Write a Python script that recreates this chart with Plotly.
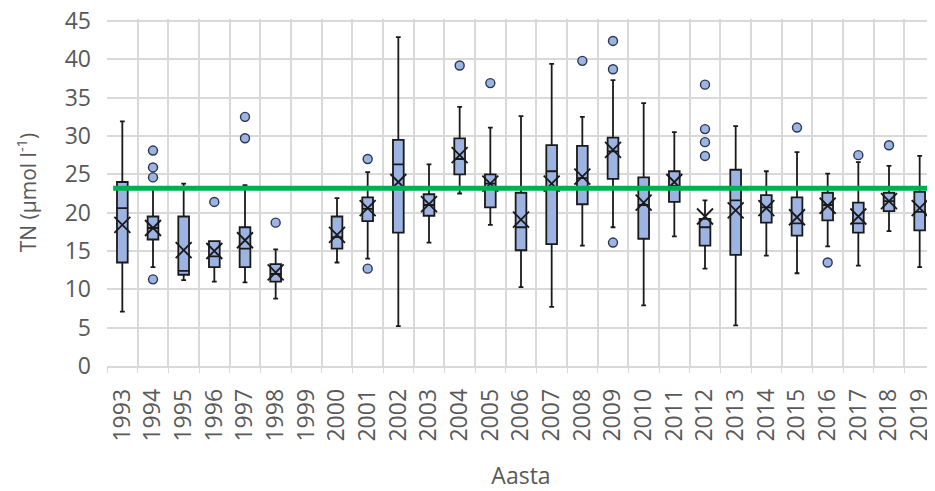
import plotly.graph_objects as go

years = [str(y) for y in range(1993, 2020)]

# Box statistics per year (None = no data, 1999)
q1 =     [13.5, 16.5, 11.9, 12.9, 12.9, 11.0, None, 15.3, 18.9, 17.4, 19.6, 25.0, 20.7, 15.1,
          15.9, 21.1, 24.4, 16.6, 21.4, 15.7, 14.5, 18.7, 17.0, 19.0, 17.4, 20.2, 17.7]
median = [20.6, 18.0, 12.4, 14.3, 15.3, 12.0, None, 16.8, 20.5, 26.3, 21.0, 27.0, 23.8, 18.1,
          25.4, 24.5, 28.0, 21.0, 23.5, 18.1, 21.6, 20.7, 18.6, 21.0, 18.6, 21.5, 20.1]
q3 =     [24.0, 19.5, 19.5, 16.3, 18.1, 13.3, None, 19.5, 22.0, 29.5, 22.4, 29.7, 25.0, 22.6,
          28.8, 28.7, 29.8, 24.6, 25.4, 19.2, 25.6, 22.3, 22.0, 22.6, 21.3, 22.6, 22.7]
lower =  [7.1, 12.9, 11.2, 11.0, 10.9, 8.8, None, 13.5, 14.0, 5.2, 16.1, 22.5, 18.4, 10.3,
          7.7, 15.7, 18.1, 7.9, 16.9, 12.7, 5.3, 14.4, 12.1, 15.6, 13.1, 17.6, 12.9]
upper =  [31.9, 23.3, 23.8, 16.3, 23.6, 15.2, None, 21.9, 25.3, 42.9, 26.3, 33.8, 31.1, 32.6,
          39.4, 32.5, 37.3, 34.3, 30.5, 21.6, 31.3, 25.4, 27.9, 25.1, 26.6, 26.1, 27.4]
mean =   [18.4, 18.0, 15.1, 15.0, 16.4, 12.2, None, 17.1, 20.6, 24.0, 21.1, 27.5, 23.8, 19.1,
          23.8, 24.7, 28.2, 21.3, 24.0, 19.5, 20.3, 20.6, 19.4, 20.9, 19.5, 21.5, 20.6]

outlier_years = ["1994", "1994", "1994", "1994", "1996", "1997", "1997", "1998",
                 "2001", "2001", "2004", "2005", "2008", "2009", "2009", "2009",
                 "2012", "2012", "2012", "2012", "2015", "2016", "2017", "2018"]
outlier_values = [28.1, 25.9, 24.6, 11.3, 21.4, 32.5, 29.7, 18.7,
                  27.0, 12.7, 39.2, 36.9, 39.8, 42.4, 38.7, 16.1,
                  36.7, 30.9, 29.2, 27.4, 31.1, 13.5, 27.5, 28.8]

reference_level = 23.2

y_ticks = [0, 5, 10, 15, 20, 25, 30, 35, 40, 45]

idx = [i for i, v in enumerate(q1) if v is not None]

TEXT = "#595959"
GRID = "#d9d9d9"
FILL = "#9DB4E3"
EDGE = "#1a1a1a"

fig = go.Figure()

fig.add_trace(go.Box(
    x=[years[i] for i in idx],
    q1=[q1[i] for i in idx],
    median=[median[i] for i in idx],
    q3=[q3[i] for i in idx],
    lowerfence=[lower[i] for i in idx],
    upperfence=[upper[i] for i in idx],
    fillcolor=FILL,
    line=dict(color=EDGE, width=1.8),
    whiskerwidth=0.45,
    boxpoints=False,
    showlegend=False,
    hoverinfo="skip",
))

fig.add_trace(go.Scatter(
    x=years,
    y=mean,
    mode="markers",
    marker=dict(symbol="x-thin-open", size=16, color=EDGE, line=dict(color=EDGE, width=1.8)),
    showlegend=False,
    hoverinfo="skip",
))

fig.add_trace(go.Scatter(
    x=outlier_years,
    y=outlier_values,
    mode="markers",
    marker=dict(symbol="circle", size=9, color=FILL, line=dict(color="#2a3550", width=1.4)),
    showlegend=False,
    hoverinfo="skip",
))

fig.add_shape(type="line", xref="x", yref="y",
              x0=-0.3, x1=26.5, y0=reference_level, y1=reference_level,
              line=dict(color="#00B050", width=5), layer="above")

fig.update_layout(
    width=927, height=483,
    margin=dict(l=99, r=0, t=11, b=125, autoexpand=False),
    paper_bgcolor="white", plot_bgcolor="white",
    font=dict(family="Open Sans", color=TEXT),
    boxgap=0.5,
    xaxis=dict(
        type="category",
        categoryorder="array", categoryarray=years,
        range=[-0.5, 26.5],
        tickson="boundaries",
        showgrid=True, gridcolor=GRID, gridwidth=1.5,
        showline=True, linecolor=GRID, linewidth=1.5,
        ticks="outside", ticklen=5, tickcolor=GRID,
        tickangle=-90,
        tickfont=dict(size=23, color=TEXT),
        ticklabelstandoff=12,
        title=dict(text="Aasta", font=dict(size=23, color=TEXT), standoff=30),
        automargin=False,
    ),
    yaxis=dict(
        range=[0, 45.26],
        tickvals=y_ticks,
        showgrid=True, gridcolor=GRID, gridwidth=1.5,
        zeroline=False,
        showline=False,
        ticks="",
        tickfont=dict(size=23, color=TEXT),
        ticklabelstandoff=15,
        ticklabeloverflow="allow",
        title=dict(text="TN (µmol l<sup>-1</sup>)", font=dict(size=21, color=TEXT), standoff=22),
        automargin=False,
    ),
)

fig.write_html("out.html")
